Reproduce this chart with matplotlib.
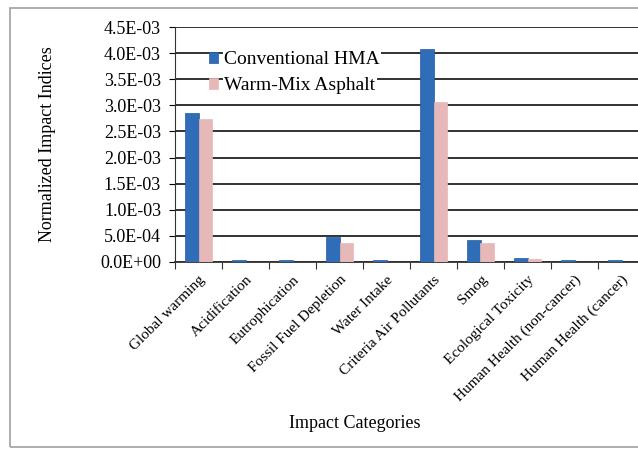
import numpy as np
import matplotlib
matplotlib.use("Agg")
import matplotlib.pyplot as plt
from matplotlib.patches import Rectangle
from matplotlib.ticker import FuncFormatter

categories = ["Global warming", "Acidification", "Eutrophication", "Fossil Fuel Depletion",
              "Water Intake", "Criteria Air Pollutants", "Smog", "Ecological Toxicity",
              "Human Health (non-cancer)", "Human Health (cancer)"]
hma = [2.85e-3, 3.0e-5, 3.0e-5, 4.85e-4, 3.0e-5, 4.08e-3, 4.2e-4, 8.0e-5, 3.0e-5, 3.0e-5]
wma = [2.74e-3, 0.0, 0.0, 3.7e-4, 0.0, 3.07e-3, 3.7e-4, 6.0e-5, 0.0, 0.0]

plt.rcParams['font.family'] = ['Liberation Serif', 'DejaVu Serif']

fig = plt.figure(figsize=(6.38, 4.49), dpi=100)
fig.patches.append(Rectangle((10/638, 2/449), 1.0, 439/449, transform=fig.transFigure,
                             fill=False, edgecolor='#a0a0a0', lw=1.2))

ax = fig.add_axes([175/638, (449-262)/449, 470/638, 235/449])
x = np.arange(len(categories))
w = 0.29
ax.bar(x - w/2, hma, w, color='#2f6db8', edgecolor='#255a9a', lw=0.5, label='Conventional HMA', zorder=3)
ax.bar(x + w/2, wma, w, color='#e6b8b7', edgecolor='#e6b8b7', lw=0.5, label='Warm-Mix Asphalt', zorder=3)

ax.set_xlim(-0.5, len(categories) - 0.5)
ax.set_ylim(0, 4.5e-3)
ax.set_yticks(np.arange(0, 4.51e-3, 0.5e-3))
ax.yaxis.set_major_formatter(FuncFormatter(lambda v, p: ("%.1E" % v)))
ax.yaxis.grid(True, color='#222222', lw=1.3, zorder=0)
ax.set_axisbelow(True)
for s in ['top', 'right']:
    ax.spines[s].set_visible(False)
ax.spines['left'].set_color('#333333')
ax.spines['bottom'].set_color('#333333')
ax.spines['bottom'].set_linewidth(1.3)

ax.set_xticks(np.arange(-0.5, len(categories), 1.0))
ax.set_xticklabels([])
ax.tick_params(axis='x', length=5, direction='out', color='#333333')
ax.set_xticks(x, minor=True)
ax.set_xticklabels(categories, minor=True, rotation=45, ha='right', rotation_mode='anchor', fontsize=11)
ax.tick_params(axis='x', which='minor', length=0, pad=8)
ax.tick_params(axis='y', length=4, labelsize=13, direction='out', pad=6)

ax.set_ylabel('Normalized Impact Indices', fontsize=13, labelpad=32)
fig.text(355/638, 1 - 424/449, 'Impact Categories', fontsize=13, ha='center', va='center')

leg = ax.legend(loc='upper left', bbox_to_anchor=(0.055, 0.93), frameon=False, fontsize=14,
                handlelength=0.5, handleheight=0.5, handletextpad=0.3, labelspacing=0.45,
                borderaxespad=0)
for t in leg.get_texts():
    t.set_bbox(dict(facecolor='white', edgecolor='none', pad=1))

fig.savefig('out.png', dpi=100)
